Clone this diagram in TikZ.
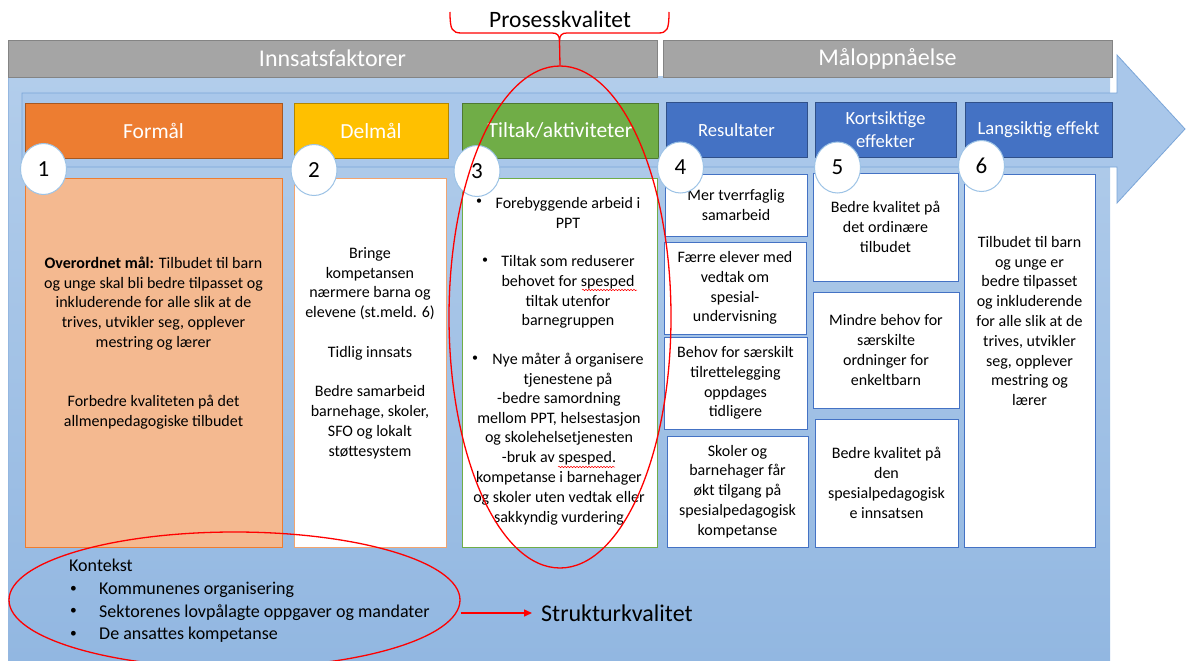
\documentclass[tikz,border=0pt]{standalone}
\usepackage{fontspec}
\setmainfont{Carlito}
\usetikzlibrary{arrows.meta,shapes.geometric,decorations.pathmorphing}
\definecolor{orH}{HTML}{ED7D31}
\definecolor{orL}{HTML}{F4B990}
\definecolor{yeH}{HTML}{FFC000}
\definecolor{grH}{HTML}{70AD47}
\definecolor{blH}{HTML}{4472C4}
\definecolor{gyH}{HTML}{A5A5A5}
\definecolor{circB}{HTML}{9DC3E6}
\definecolor{arrF}{HTML}{A9C7EA}
\definecolor{arrD}{HTML}{7AA5D8}
\definecolor{bgTop}{HTML}{B2CDEB}
\definecolor{bgBot}{HTML}{92B7E1}
\definecolor{redL}{HTML}{FF0000}
\newcommand\fbody{\fontsize{16}{19.8}\selectfont}
\newcommand\fhead{\fontsize{21.5}{26}\selectfont}
\newcommand\fblue{\fontsize{18.6}{23}\selectfont}
\newcommand\fbar{\fontsize{24}{29}\selectfont}
\newcommand\smbul{\raisebox{0.12em}{\scalebox{0.75}{•}}}
\begin{document}
\begin{tikzpicture}[x=1pt,y=-1pt,
  bar/.style={fill=gyH, draw=gyH!80!black, line width=0.6pt, text=white, font=\fbar, inner sep=0pt, minimum height=37pt},
  hdr/.style={fill=#1, draw=#1!70!black, line width=0.6pt, text=white, inner sep=0pt, align=center, minimum height=55pt},
  cbox/.style={fill=white, draw=#1, line width=0.8pt, inner sep=0pt, align=center, font=\fbody},
  txt/.style={inner sep=0pt, align=center, font=\fbody},
  num/.style={ellipse, fill=white, draw=circB, line width=1pt, minimum width=46pt, minimum height=51pt, inner sep=0pt, font=\fontsize{23}{27}\selectfont},
  redell/.style={ellipse, draw=redL, line width=1.3pt, inner sep=0pt},
  squig/.style={draw=redL, line width=0.5pt, decorate, decoration={snake, amplitude=0.7pt, segment length=3pt}}
]
\useasboundingbox (0,0) rectangle (1186,661);
\fill[white] (0,0) rectangle (1186,661);
% background
\path[top color=bgTop, bottom color=bgBot] (8,77) rectangle (1110,661);
\draw[arrD!80!white, line width=0.6pt] (8,77) -- (8,661);
% arrow
\draw[fill=arrF, draw=arrD, line width=0.8pt] (22,93) -- (1117,93) -- (1117,55) -- (1185,129) -- (1117,203) -- (1117,167) -- (22,167) -- cycle;
% grey bars
\node[bar, minimum width=649pt] (inn) at (332.5,58.5) {Innsatsfaktorer};
\node[bar, minimum width=449pt] (maal) at (887.5,58.5) {Måloppnåelse};
% headers
\node[hdr=orH, minimum width=257pt, font=\fhead] (h1) at (153.5,130.5) {Formål};
\node[hdr=yeH, minimum width=154pt, font=\fhead] (h2) at (371,130.5) {Delmål};
\node[hdr=grH, minimum width=196pt, font=\fhead] (h3) at (560,130.5) {Tiltak/aktiviteter};
\node[hdr=blH, minimum width=141pt, font=\fblue] (h4) at (736.5,130) {Resultater};
\node[hdr=blH, minimum width=141pt, font=\fblue] (h5) at (885.5,130) {Kortsiktige\\effekter};
\node[hdr=blH, minimum width=147pt, font=\fblue] (h6) at (1038.5,130) {Langsiktig effekt};
% column 1
\node[cbox=orH, fill=orL, minimum width=257pt, minimum height=369pt] (c1) at (153.5,362.5) {};
\node[txt] (t1) at (153.5,343) {{\bfseries Overordnet mål:} Tilbudet til barn\\og unge skal bli bedre tilpasset og\\inkluderende for alle slik at de\\trives, utvikler seg, opplever\\mestring og lærer\\[39.6pt]Forbedre kvaliteten på det\\allmenpedagogiske tilbudet};
% column 2
\node[cbox=orH!70!white, minimum width=152pt, minimum height=369pt] (c2) at (370,362.5) {};
\node[txt] (t2) at (370,353) {Bringe\\kompetansen\\nærmere barna og\\elevene (st.meld. 6)\\[19.8pt]Tidlig innsats\\[19.8pt]Bedre samarbeid\\barnehage, skoler,\\SFO og lokalt\\støttesystem};
% column 3
\node[cbox=grH, minimum width=195pt, minimum height=369pt] (c3) at (559.5,362.5) {};
\node[txt] (b1) at (479,203) {\smbul};
\node[txt] (p1) at (568,213) {Forebyggende arbeid i\\PPT};
\node[txt] (b2) at (485,262) {\smbul};
\node[txt] (p2) at (568,292) {Tiltak som reduserer\\behovet for spesped\\tiltak utenfor\\barnegruppen};
\node[txt] (b3) at (475,360) {\smbul};
\node[txt] (p3) at (568,370.5) {Nye måter å organisere\\tjenestene på};
\node[txt] (p4) at (559,458.5) {-bedre samordning\\mellom PPT, helsestasjon\\og skolehelsetjenesten\\-bruk av spesped.\\kompetanse i barnehager\\og skoler uten vedtak eller\\sakkyndig vurdering};
\path[squig] (582,290) -- (637,290);
\path[squig] (558,467) -- (615,467);
% column 4
\node[cbox=blH, minimum width=142pt, minimum height=62pt] (r1) at (736,205) {Mer tverrfaglig\\samarbeid};
\node[cbox=blH, minimum width=142pt, minimum height=92pt] (r2) at (735,288) {Færre elever med\\vedtak om\\spesial-\\undervisning};
\node[cbox=blH, minimum width=143pt, minimum height=92pt] (r3) at (735.5,383) {Behov for særskilt\\tilrettelegging\\oppdages\\tidligere};
\node[cbox=blH, minimum width=141pt, minimum height=111pt] (r4) at (737.5,491.5) {Skoler og\\barnehager får\\økt tilgang på\\spesialpedagogisk\\kompetanse};
% column 5
\node[cbox=blH, minimum width=145pt, minimum height=108pt] (k1) at (885.5,227) {Bedre kvalitet på\\det ordinære\\tilbudet};
\node[cbox=blH, minimum width=146pt, minimum height=116pt] (k2) at (886,350) {Mindre behov for\\særskilte\\ordninger for\\enkeltbarn};
\node[cbox=blH, minimum width=143pt, minimum height=128pt] (k3) at (886.5,483) {Bedre kvalitet på\\den\\spesialpedagogisk\\e innsatsen};
% column 6
\node[cbox=blH, minimum width=131pt, minimum height=373pt] (c6) at (1029.5,360.5) {};
\node[txt] (t6) at (1029.5,321) {Tilbudet til barn\\og unge er\\bedre tilpasset\\og inkluderende\\for alle slik at de\\trives, utvikler\\seg, opplever\\mestring og\\lærer};
% number circles
\node[num] (n1) at (43.5,169) {1};
\node[num] (n2) at (314,170) {2};
\node[num] (n3) at (477,171) {3};
\node[num] (n4) at (680.5,167.5) {4};
\node[num] (n5) at (837.5,167.5) {5};
\node[num] (n6) at (981.5,166) {6};
% context
\node[anchor=west, align=left, inner sep=0pt, font=\fontsize{18}{22.7}\selectfont] (kont) at (69,601) {Kontekst\\\makebox[30pt][l]{\hspace{1pt}\smbul}Kommunenes organisering\\\makebox[30pt][l]{\hspace{1pt}\smbul}Sektorenes lovpålagte oppgaver og mandater\\\makebox[30pt][l]{\hspace{1pt}\smbul}De ansattes kompetanse};
\node[anchor=west, inner sep=0pt, font=\fontsize{24}{29}\selectfont] (struk) at (541,613) {Strukturkvalitet};
% red annotations
\node[redell, minimum width=222pt, minimum height=502pt] (prosess) at (560,317) {};
\node[redell, minimum width=451pt, minimum height=136pt] (ctx) at (234.5,600) {};
\node[inner sep=0pt, font=\fontsize{23.5}{28}\selectfont] (ptitle) at (560,19) {Prosesskvalitet};
\draw[redL, line width=1.3pt] (450,12) .. controls (450,30) and (452,33) .. (462,33) -- (552,33) .. controls (557,33) and (559.5,35) .. (559.5,41) .. controls (559.5,35) and (562,33) .. (567,33) -- (658,33) .. controls (667,33) and (669,30) .. (669,12);
\draw[redL, line width=1.3pt] (559.5,41) -- (prosess.north);
\draw[redL, line width=1.5pt, -{Triangle[length=8pt,width=7pt]}] (ctx.east |- struk.west) -- ([xshift=-9pt]struk.west);
\end{tikzpicture}
\end{document}
